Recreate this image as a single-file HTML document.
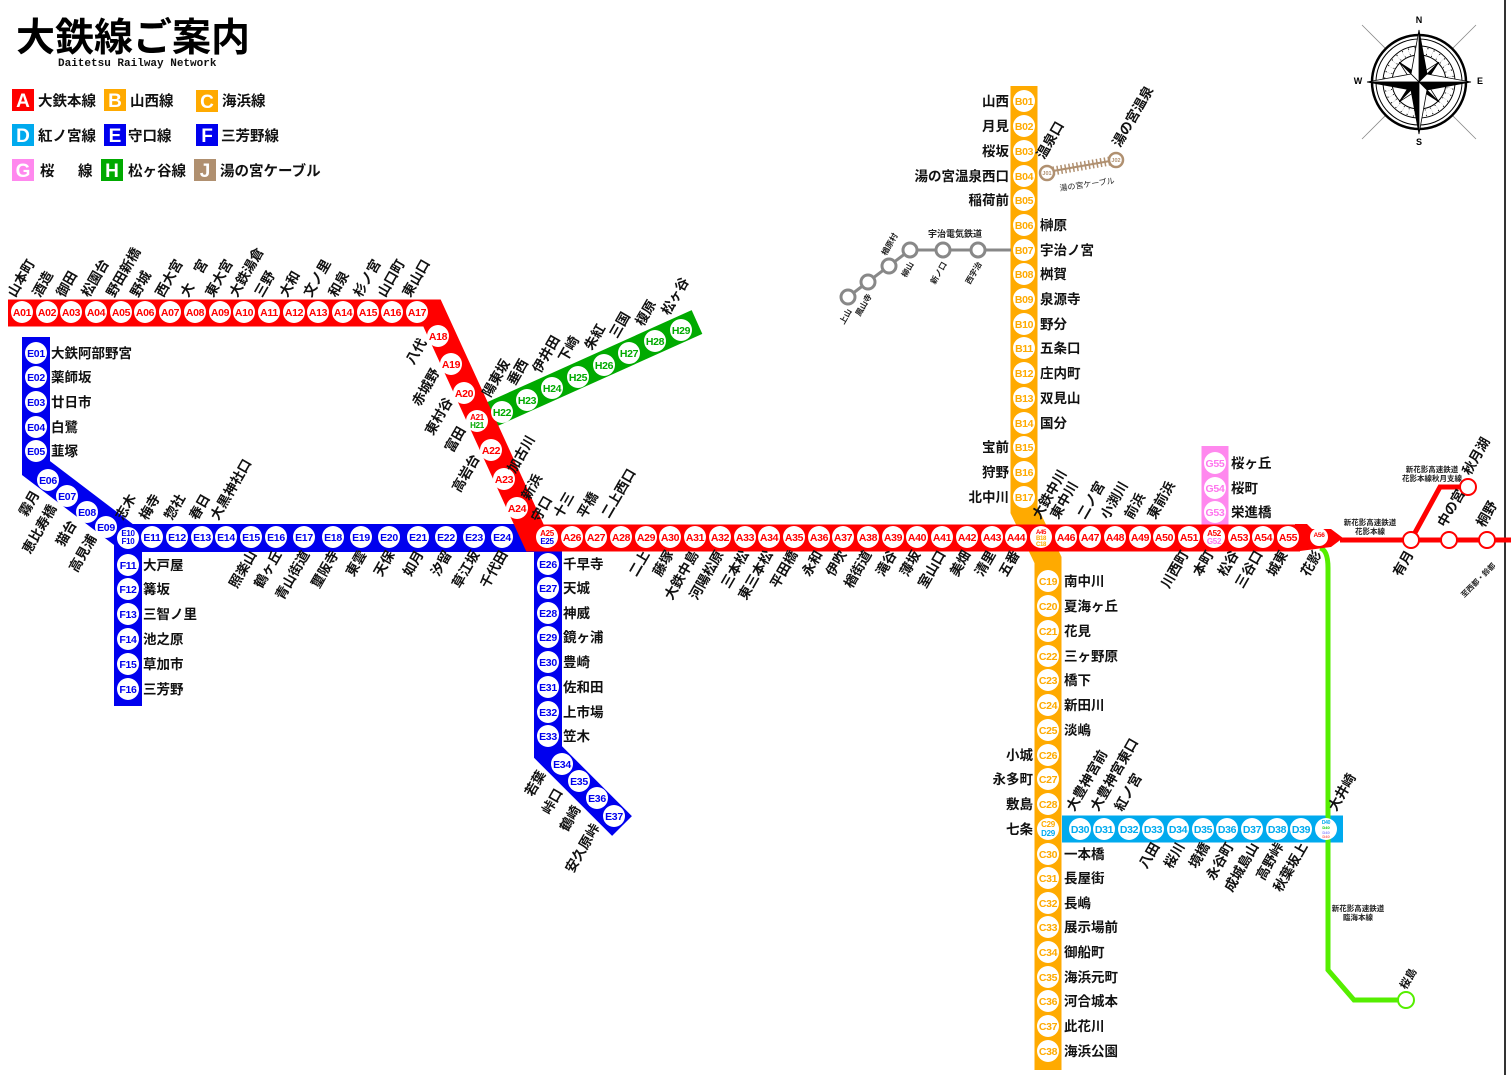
<!DOCTYPE html>
<html><head><meta charset="utf-8"><style>
html,body{margin:0;padding:0;background:#fff;width:1511px;height:1080px;overflow:hidden}
svg{display:block}
text{font-family:"Liberation Sans","Noto Sans CJK JP",sans-serif;font-weight:bold}
.l{font-size:13.5px;fill:#111}
.c{font-size:10.5px;text-anchor:middle;letter-spacing:-0.3px}
.s{font-size:8px;fill:#222;font-weight:normal}
.ca{fill:#f00}.cb{fill:#fa0}.ce{fill:#00e}.ch{fill:#0a0}.cd{fill:#0ae}.cg{fill:#f7e}
.e{text-anchor:end}
</style></head><body>
<svg width="1511" height="1080" viewBox="0 0 1511 1080" xmlns="http://www.w3.org/2000/svg">
<rect width="1511" height="1080" fill="#fff"/>
<line x1="1505" y1="0" x2="1505" y2="1075" stroke="#333" stroke-width="2"/>
<!-- Title -->
<text x="16" y="51" style="font-size:39px;fill:#000">大鉄線ご案内</text>
<text x="58" y="66" style="font-family:'Liberation Mono',monospace;font-size:11px;font-weight:bold;fill:#111">Daitetsu Railway Network</text>
<!-- Legend -->
<g style="font-size:19px;fill:#fff;text-anchor:middle">
<rect x="12" y="89" width="22" height="22" fill="#f00"/><text x="23" y="107">A</text>
<rect x="104" y="89" width="22" height="22" fill="#fa0"/><text x="115" y="107">B</text>
<rect x="196" y="90" width="22" height="22" fill="#fa0"/><text x="207" y="108">C</text>
<rect x="12" y="124" width="22" height="22" fill="#0ae"/><text x="23" y="142">D</text>
<rect x="104" y="124" width="22" height="22" fill="#00e"/><text x="115" y="142">E</text>
<rect x="196" y="124" width="22" height="22" fill="#00e"/><text x="207" y="142">F</text>
<rect x="12" y="159" width="22" height="22" fill="#f8e"/><text x="23" y="177">G</text>
<rect x="101" y="159" width="22" height="22" fill="#0a0"/><text x="112" y="177">H</text>
<rect x="194" y="159" width="22" height="22" fill="#b09070"/><text x="205" y="177">J</text>
</g>
<g style="font-size:14.5px;fill:#111">
<text x="38" y="106">大鉄本線</text><text x="130" y="106">山西線</text><text x="222" y="106">海浜線</text>
<text x="38" y="141">紅ノ宮線</text><text x="128" y="141">守口線</text><text x="221" y="141">三芳野線</text>
<text x="40" y="176">桜</text><text x="78" y="176">線</text><text x="128" y="176">松ヶ谷線</text><text x="220" y="176">湯の宮ケーブル</text>
</g>

<!-- Compass -->
<g transform="translate(1419,82)" stroke="#000" fill="none">
<g stroke-width="0.8" stroke="#888"><line x1="-57" y1="-57" x2="57" y2="57"/><line x1="57" y1="-57" x2="-57" y2="57"/></g>
<circle r="47" fill="#fff" stroke-width="2.5"/><circle r="43" stroke-width="1"/><circle r="36" stroke-width="1"/><circle r="27" stroke-width="1"/>
<circle r="31.5" stroke-width="7" stroke="#000" stroke-dasharray="1 5"/>
<circle r="31.5" stroke-width="5" stroke="#fff" stroke-dasharray="4 2"/>
<g stroke-width="0.8">
<polygon points="0,-28 5,-5 0,0" fill="#000" transform="rotate(45)"/><polygon points="0,-28 -5,-5 0,0" fill="#fff" transform="rotate(45)"/>
<polygon points="0,-28 5,-5 0,0" fill="#000" transform="rotate(135)"/><polygon points="0,-28 -5,-5 0,0" fill="#fff" transform="rotate(135)"/>
<polygon points="0,-28 5,-5 0,0" fill="#000" transform="rotate(225)"/><polygon points="0,-28 -5,-5 0,0" fill="#fff" transform="rotate(225)"/>
<polygon points="0,-28 5,-5 0,0" fill="#000" transform="rotate(315)"/><polygon points="0,-28 -5,-5 0,0" fill="#fff" transform="rotate(315)"/>
<polygon points="0,-52 8,-8 0,0" fill="#000"/><polygon points="0,-52 -8,-8 0,0" fill="#fff"/>
<polygon points="0,-52 8,-8 0,0" fill="#000" transform="rotate(90)"/><polygon points="0,-52 -8,-8 0,0" fill="#fff" transform="rotate(90)"/>
<polygon points="0,-52 8,-8 0,0" fill="#000" transform="rotate(180)"/><polygon points="0,-52 -8,-8 0,0" fill="#fff" transform="rotate(180)"/>
<polygon points="0,-52 8,-8 0,0" fill="#fff" transform="rotate(270)"/><polygon points="0,-52 -8,-8 0,0" fill="#000" transform="rotate(270)"/>
</g>
</g>
<g style="font-size:9px;font-family:'Liberation Sans',sans-serif;text-anchor:middle;fill:#000">
<text x="1419" y="23">N</text><text x="1419" y="145">S</text><text x="1358" y="84">W</text><text x="1480" y="84">E</text></g>

<!-- Lines -->
<polyline points="36,337 36,468 128,538 540,538" fill="none" stroke="#00e" stroke-width="28" stroke-linejoin="miter"/>
<line x1="128" y1="530" x2="128" y2="706" stroke="#00e" stroke-width="28"/>
<polyline points="548,530 548,752 622,826" fill="none" stroke="#00e" stroke-width="28" stroke-linejoin="miter"/>
<line x1="477" y1="421" x2="697" y2="322" stroke="#0a0" stroke-width="26"/>
<polyline points="1024,86 1024,510 1048,560 1048,1070" fill="none" stroke="#fa0" stroke-width="27" stroke-linejoin="miter"/>
<line x1="1215" y1="446" x2="1215" y2="530" stroke="#f8e" stroke-width="27"/>
<line x1="1062" y1="829" x2="1343" y2="829" stroke="#0ae" stroke-width="27"/>
<path d="M1320,548 Q1328,550 1328,568 L1328,970 L1354,1000 L1398,1000" fill="none" stroke="#5e0" stroke-width="5"/>
<circle cx="1406" cy="1000" r="8" fill="#fff" stroke="#5e0" stroke-width="2"/>
<polyline points="8,313 432,313 535,538 1300,538" fill="none" stroke="#f00" stroke-width="27" stroke-linejoin="miter"/>
<polygon points="1295,524 1307,524 1312,529 1331,529 1343,538 1331,547 1300,551 1295,551" fill="#f00"/>
<line x1="1340" y1="540" x2="1511" y2="540" stroke="#f00" stroke-width="5"/>
<polyline points="1411,540 1440,487 1462,487" fill="none" stroke="#f00" stroke-width="5"/>
<g fill="#fff" stroke="#f00" stroke-width="2"><circle cx="1411" cy="540" r="8"/><circle cx="1449" cy="540" r="8"/><circle cx="1487" cy="540" r="8"/><circle cx="1468" cy="487" r="8"/></g>
<!-- Uji -->
<polyline points="1011,250 910,250 848,297" fill="none" stroke="#888" stroke-width="3"/>
<g fill="#fff" stroke="#888" stroke-width="3"><circle cx="978" cy="250" r="7"/><circle cx="943" cy="250" r="7"/><circle cx="910" cy="250" r="7"/><circle cx="889" cy="266" r="7"/><circle cx="868" cy="282" r="7"/><circle cx="848" cy="297" r="7"/></g>
<g class="s"><text x="955" y="237" text-anchor="middle" style="font-size:9px">宇治電気鉄道</text>
<text class="e" transform="translate(982,264) rotate(-60)">西宇治</text>
<text class="e" transform="translate(947,264) rotate(-60)">新ノ口</text>
<text class="e" transform="translate(914,264) rotate(-60)">柳山</text>
<text transform="translate(886,256) rotate(-60)">楢原村</text>
<text class="e" transform="translate(872,296) rotate(-60)">鳳山寺</text>
<text class="e" transform="translate(852,311) rotate(-60)">上山</text></g>
<!-- J cable -->
<line x1="1053" y1="171" x2="1110" y2="161" stroke="#b09070" stroke-width="2"/>
<line x1="1053" y1="171" x2="1110" y2="161" stroke="#b09070" stroke-width="9" stroke-dasharray="1.5 2.5"/>
<g fill="#fff" stroke="#b09070" stroke-width="2.5"><circle cx="1047" cy="173" r="7"/><circle cx="1116" cy="160" r="7"/></g>
<g style="font-size:5.5px;fill:#b09070;text-anchor:middle"><text x="1047" y="175">J01</text><text x="1116" y="162">J02</text></g>
<text class="s" transform="translate(1060,191) rotate(-8)" style="font-size:8px">湯の宮ケーブル</text>
<text class="l" transform="translate(1044,160) rotate(-60)">温泉口</text>
<text class="l" transform="translate(1120,148) rotate(-60)">湯の宮温泉</text>

<!-- Station circles -->
<g fill="#fff">
<circle cx="22" cy="312" r="11"/><circle cx="47" cy="312" r="11"/><circle cx="71" cy="312" r="11"/><circle cx="96" cy="312" r="11"/><circle cx="121" cy="312" r="11"/><circle cx="145" cy="312" r="11"/><circle cx="170" cy="312" r="11"/><circle cx="195" cy="312" r="11"/><circle cx="220" cy="312" r="11"/><circle cx="244" cy="312" r="11"/><circle cx="269" cy="312" r="11"/><circle cx="294" cy="312" r="11"/><circle cx="318" cy="312" r="11"/><circle cx="343" cy="312" r="11"/><circle cx="368" cy="312" r="11"/><circle cx="392" cy="312" r="11"/><circle cx="417" cy="312" r="11"/>
<circle cx="438" cy="336" r="11"/><circle cx="451" cy="364" r="11"/><circle cx="464" cy="393" r="11"/><circle cx="477" cy="421" r="11"/><circle cx="491" cy="450" r="11"/><circle cx="504" cy="479" r="11"/><circle cx="517" cy="508" r="11"/>
<circle cx="547" cy="537" r="11"/><circle cx="572" cy="537" r="11"/><circle cx="596" cy="537" r="11"/><circle cx="621" cy="537" r="11"/><circle cx="646" cy="537" r="11"/><circle cx="670" cy="537" r="11"/><circle cx="695" cy="537" r="11"/><circle cx="720" cy="537" r="11"/><circle cx="745" cy="537" r="11"/><circle cx="769" cy="537" r="11"/><circle cx="794" cy="537" r="11"/><circle cx="819" cy="537" r="11"/><circle cx="843" cy="537" r="11"/><circle cx="868" cy="537" r="11"/><circle cx="893" cy="537" r="11"/><circle cx="917" cy="537" r="11"/><circle cx="942" cy="537" r="11"/><circle cx="967" cy="537" r="11"/><circle cx="992" cy="537" r="11"/><circle cx="1016" cy="537" r="11"/><circle cx="1041" cy="537" r="11"/><circle cx="1066" cy="537" r="11"/><circle cx="1090" cy="537" r="11"/><circle cx="1115" cy="537" r="11"/><circle cx="1140" cy="537" r="11"/><circle cx="1164" cy="537" r="11"/><circle cx="1189" cy="537" r="11"/><circle cx="1214" cy="537" r="11"/><circle cx="1239" cy="537" r="11"/><circle cx="1263" cy="537" r="11"/><circle cx="1288" cy="537" r="11"/><circle cx="1319" cy="537" r="9"/>
<circle cx="36" cy="353" r="11"/><circle cx="36" cy="377" r="11"/><circle cx="36" cy="402" r="11"/><circle cx="36" cy="427" r="11"/><circle cx="36" cy="451" r="11"/>
<circle cx="48" cy="480" r="11"/><circle cx="67" cy="496" r="11"/><circle cx="87" cy="512" r="11"/><circle cx="106" cy="527" r="11"/><circle cx="128" cy="538" r="11"/>
<circle cx="152" cy="537" r="11"/><circle cx="177" cy="537" r="11"/><circle cx="202" cy="537" r="11"/><circle cx="226" cy="537" r="11"/><circle cx="251" cy="537" r="11"/><circle cx="276" cy="537" r="11"/><circle cx="304" cy="537" r="11"/><circle cx="333" cy="537" r="11"/><circle cx="361" cy="537" r="11"/><circle cx="389" cy="537" r="11"/><circle cx="418" cy="537" r="11"/><circle cx="446" cy="537" r="11"/><circle cx="474" cy="537" r="11"/><circle cx="502" cy="537" r="11"/>
<circle cx="128" cy="565" r="11"/><circle cx="128" cy="589" r="11"/><circle cx="128" cy="614" r="11"/><circle cx="128" cy="639" r="11"/><circle cx="128" cy="664" r="11"/><circle cx="128" cy="689" r="11"/>
<circle cx="548" cy="564" r="11"/><circle cx="548" cy="588" r="11"/><circle cx="548" cy="613" r="11"/><circle cx="548" cy="637" r="11"/><circle cx="548" cy="662" r="11"/><circle cx="548" cy="687" r="11"/><circle cx="548" cy="712" r="11"/><circle cx="548" cy="736" r="11"/>
<circle cx="562" cy="764" r="11"/><circle cx="579" cy="781" r="11"/><circle cx="597" cy="798" r="11"/><circle cx="614" cy="816" r="11"/>
<circle cx="502" cy="412" r="11"/><circle cx="527" cy="400" r="11"/><circle cx="552" cy="388" r="11"/><circle cx="578" cy="377" r="11"/><circle cx="604" cy="365" r="11"/><circle cx="629" cy="353" r="11"/><circle cx="655" cy="341" r="11"/><circle cx="681" cy="330" r="11"/>
<circle cx="1024" cy="101" r="11"/><circle cx="1024" cy="126" r="11"/><circle cx="1024" cy="151" r="11"/><circle cx="1024" cy="176" r="11"/><circle cx="1024" cy="200" r="11"/><circle cx="1024" cy="225" r="11"/><circle cx="1024" cy="250" r="11"/><circle cx="1024" cy="274" r="11"/><circle cx="1024" cy="299" r="11"/><circle cx="1024" cy="324" r="11"/><circle cx="1024" cy="348" r="11"/><circle cx="1024" cy="373" r="11"/><circle cx="1024" cy="398" r="11"/><circle cx="1024" cy="423" r="11"/><circle cx="1024" cy="447" r="11"/><circle cx="1024" cy="472" r="11"/><circle cx="1024" cy="497" r="11"/>
<circle cx="1048" cy="581" r="11"/><circle cx="1048" cy="606" r="11"/><circle cx="1048" cy="631" r="11"/><circle cx="1048" cy="656" r="11"/><circle cx="1048" cy="680" r="11"/><circle cx="1048" cy="705" r="11"/><circle cx="1048" cy="730" r="11"/><circle cx="1048" cy="755" r="11"/><circle cx="1048" cy="779" r="11"/><circle cx="1048" cy="804" r="11"/><circle cx="1048" cy="829" r="11"/><circle cx="1048" cy="854" r="11"/><circle cx="1048" cy="878" r="11"/><circle cx="1048" cy="903" r="11"/><circle cx="1048" cy="927" r="11"/><circle cx="1048" cy="952" r="11"/><circle cx="1048" cy="977" r="11"/><circle cx="1048" cy="1001" r="11"/><circle cx="1048" cy="1026" r="11"/><circle cx="1048" cy="1051" r="11"/>
<circle cx="1080" cy="829" r="11"/><circle cx="1104" cy="829" r="11"/><circle cx="1129" cy="829" r="11"/><circle cx="1153" cy="829" r="11"/><circle cx="1178" cy="829" r="11"/><circle cx="1203" cy="829" r="11"/><circle cx="1227" cy="829" r="11"/><circle cx="1252" cy="829" r="11"/><circle cx="1277" cy="829" r="11"/><circle cx="1301" cy="829" r="11"/><circle cx="1326" cy="829" r="11"/>
<circle cx="1215" cy="463" r="11"/><circle cx="1215" cy="488" r="11"/><circle cx="1215" cy="512" r="11"/>
</g>

<!-- Codes -->
<g class="c ca">
<text x="22" y="316">A01</text><text x="47" y="316">A02</text><text x="71" y="316">A03</text><text x="96" y="316">A04</text><text x="121" y="316">A05</text><text x="145" y="316">A06</text><text x="170" y="316">A07</text><text x="195" y="316">A08</text><text x="220" y="316">A09</text><text x="244" y="316">A10</text><text x="269" y="316">A11</text><text x="294" y="316">A12</text><text x="318" y="316">A13</text><text x="343" y="316">A14</text><text x="368" y="316">A15</text><text x="392" y="316">A16</text><text x="417" y="316">A17</text>
<text x="438" y="340">A18</text><text x="451" y="368">A19</text><text x="464" y="397">A20</text><text x="491" y="454">A22</text><text x="504" y="483">A23</text><text x="517" y="512">A24</text>
<text x="572" y="541">A26</text><text x="596" y="541">A27</text><text x="621" y="541">A28</text><text x="646" y="541">A29</text><text x="670" y="541">A30</text><text x="695" y="541">A31</text><text x="720" y="541">A32</text><text x="745" y="541">A33</text><text x="769" y="541">A34</text><text x="794" y="541">A35</text><text x="819" y="541">A36</text><text x="843" y="541">A37</text><text x="868" y="541">A38</text><text x="893" y="541">A39</text><text x="917" y="541">A40</text><text x="942" y="541">A41</text><text x="967" y="541">A42</text><text x="992" y="541">A43</text><text x="1016" y="541">A44</text>
<text x="1066" y="541">A46</text><text x="1090" y="541">A47</text><text x="1115" y="541">A48</text><text x="1140" y="541">A49</text><text x="1164" y="541">A50</text><text x="1189" y="541">A51</text><text x="1239" y="541">A53</text><text x="1263" y="541">A54</text><text x="1288" y="541">A55</text>
<text x="477" y="420" style="font-size:8px">A21</text><text x="547" y="536" style="font-size:8px">A25</text><text x="1214" y="536" style="font-size:8px">A52</text><text x="1319" y="537" style="font-size:6.5px">A56</text><text x="1041" y="534" style="font-size:6px">A45</text>
</g>
<g class="c ch"><text x="477" y="428" style="font-size:8px">H21</text>
<text x="502" y="416">H22</text><text x="527" y="404">H23</text><text x="552" y="392">H24</text><text x="578" y="381">H25</text><text x="604" y="369">H26</text><text x="629" y="357">H27</text><text x="655" y="345">H28</text><text x="681" y="334">H29</text></g>
<g class="c ce">
<text x="547" y="544" style="font-size:8px">E25</text><text x="128" y="536" style="font-size:8px">E10</text><text x="128" y="544" style="font-size:8px">F10</text>
<text x="36" y="357">E01</text><text x="36" y="381">E02</text><text x="36" y="406">E03</text><text x="36" y="431">E04</text><text x="36" y="455">E05</text>
<text x="48" y="484">E06</text><text x="67" y="500">E07</text><text x="87" y="516">E08</text><text x="106" y="531">E09</text>
<text x="152" y="541">E11</text><text x="177" y="541">E12</text><text x="202" y="541">E13</text><text x="226" y="541">E14</text><text x="251" y="541">E15</text><text x="276" y="541">E16</text><text x="304" y="541">E17</text><text x="333" y="541">E18</text><text x="361" y="541">E19</text><text x="389" y="541">E20</text><text x="418" y="541">E21</text><text x="446" y="541">E22</text><text x="474" y="541">E23</text><text x="502" y="541">E24</text>
<text x="128" y="569">F11</text><text x="128" y="593">F12</text><text x="128" y="618">F13</text><text x="128" y="643">F14</text><text x="128" y="668">F15</text><text x="128" y="693">F16</text>
<text x="548" y="568">E26</text><text x="548" y="592">E27</text><text x="548" y="617">E28</text><text x="548" y="641">E29</text><text x="548" y="666">E30</text><text x="548" y="691">E31</text><text x="548" y="716">E32</text><text x="548" y="740">E33</text>
<text x="562" y="768">E34</text><text x="579" y="785">E35</text><text x="597" y="802">E36</text><text x="614" y="820">E37</text>
</g>
<g class="c cb">
<text x="1041" y="540" style="font-size:6px">B18</text><text x="1041" y="546" style="font-size:6px">C18</text>
<text x="1024" y="105">B01</text><text x="1024" y="130">B02</text><text x="1024" y="155">B03</text><text x="1024" y="180">B04</text><text x="1024" y="204">B05</text><text x="1024" y="229">B06</text><text x="1024" y="254">B07</text><text x="1024" y="278">B08</text><text x="1024" y="303">B09</text><text x="1024" y="328">B10</text><text x="1024" y="352">B11</text><text x="1024" y="377">B12</text><text x="1024" y="402">B13</text><text x="1024" y="427">B14</text><text x="1024" y="451">B15</text><text x="1024" y="476">B16</text><text x="1024" y="501">B17</text>
<text x="1048" y="585">C19</text><text x="1048" y="610">C20</text><text x="1048" y="635">C21</text><text x="1048" y="660">C22</text><text x="1048" y="684">C23</text><text x="1048" y="709">C24</text><text x="1048" y="734">C25</text><text x="1048" y="759">C26</text><text x="1048" y="783">C27</text><text x="1048" y="808">C28</text><text x="1048" y="827" style="font-size:8px">C29</text><text x="1048" y="858">C30</text><text x="1048" y="882">C31</text><text x="1048" y="907">C32</text><text x="1048" y="931">C33</text><text x="1048" y="956">C34</text><text x="1048" y="981">C35</text><text x="1048" y="1005">C36</text><text x="1048" y="1030">C37</text><text x="1048" y="1055">C38</text>
</g>
<g class="c cd"><text x="1048" y="836" style="font-size:8px">D29</text>
<text x="1080" y="833">D30</text><text x="1104" y="833">D31</text><text x="1129" y="833">D32</text><text x="1153" y="833">D33</text><text x="1178" y="833">D34</text><text x="1203" y="833">D35</text><text x="1227" y="833">D36</text><text x="1252" y="833">D37</text><text x="1277" y="833">D38</text><text x="1301" y="833">D39</text><text x="1326" y="824" style="font-size:5px">D40</text></g>
<g class="c cg"><text x="1214" y="544" style="font-size:8px">G52</text><text x="1215" y="467">G55</text><text x="1215" y="492">G54</text><text x="1215" y="516">G53</text></g>
<g style="font-size:4px;text-anchor:middle"><text x="1326" y="829" fill="#0c0">D40</text><text x="1326" y="834" fill="#88f">D40</text><text x="1326" y="838" fill="#f66">D40</text></g>

<!-- Labels -->
<g class="l">
<text transform="translate(15,298) rotate(-60)">山本町</text><text transform="translate(40,298) rotate(-60)">酒造</text><text transform="translate(64,298) rotate(-60)">御田</text><text transform="translate(89,298) rotate(-60)">松園台</text><text transform="translate(114,298) rotate(-60)">野田新橋</text><text transform="translate(138,298) rotate(-60)">野城</text><text transform="translate(163,298) rotate(-60)">西大宮</text><text transform="translate(188,298) rotate(-60)">大　宮</text><text transform="translate(213,298) rotate(-60)">東大宮</text><text transform="translate(237,298) rotate(-60)">大鉄湯倉</text><text transform="translate(262,298) rotate(-60)">三野</text><text transform="translate(287,298) rotate(-60)">大和</text><text transform="translate(311,298) rotate(-60)">文ノ里</text><text transform="translate(336,298) rotate(-60)">和泉</text><text transform="translate(361,298) rotate(-60)">杉ノ宮</text><text transform="translate(385,298) rotate(-60)">山口町</text><text transform="translate(410,298) rotate(-60)">東山口</text>
<text class="e" transform="translate(427,342) rotate(-60)">八代</text><text class="e" transform="translate(440,372) rotate(-60)">赤城野</text><text class="e" transform="translate(453,401) rotate(-60)">東村谷</text><text class="e" transform="translate(466,430) rotate(-60)">富田</text><text class="e" transform="translate(480,458) rotate(-60)">高岩台</text>
<text transform="translate(515,474) rotate(-60)">加古川</text><text transform="translate(529,501) rotate(-60)">新浜</text><text transform="translate(539,523) rotate(-60)">守口</text>
<text transform="translate(561,519) rotate(-60)">十三</text><text transform="translate(585,519) rotate(-60)">平橋</text><text transform="translate(609,519) rotate(-60)">二上西口</text>
<text class="e" transform="translate(650,554) rotate(-60)">二上</text><text class="e" transform="translate(674,554) rotate(-60)">藤塚</text><text class="e" transform="translate(699,554) rotate(-60)">大鉄中島</text><text class="e" transform="translate(724,554) rotate(-60)">河陽松原</text><text class="e" transform="translate(749,554) rotate(-60)">三本松</text><text class="e" transform="translate(773,554) rotate(-60)">東三本松</text><text class="e" transform="translate(798,554) rotate(-60)">平田橋</text><text class="e" transform="translate(823,554) rotate(-60)">永和</text><text class="e" transform="translate(847,554) rotate(-60)">伊吹</text><text class="e" transform="translate(872,554) rotate(-60)">楢街道</text><text class="e" transform="translate(897,554) rotate(-60)">滝谷</text><text class="e" transform="translate(921,554) rotate(-60)">薄坂</text><text class="e" transform="translate(946,554) rotate(-60)">室山口</text><text class="e" transform="translate(971,554) rotate(-60)">美畑</text><text class="e" transform="translate(996,554) rotate(-60)">清里</text><text class="e" transform="translate(1020,554) rotate(-60)">五番</text>
<text class="e" transform="translate(1189,554) rotate(-60)">川西町</text><text class="e" transform="translate(1214,554) rotate(-60)">本町</text><text class="e" transform="translate(1239,554) rotate(-60)">松谷</text><text class="e" transform="translate(1263,554) rotate(-60)">三谷口</text><text class="e" transform="translate(1288,554) rotate(-60)">城東</text><text class="e" transform="translate(1322,554) rotate(-60)">花影</text>
<text transform="translate(1040,520) rotate(-60)">大鉄中川</text><text transform="translate(1058,520) rotate(-60)">東中川</text><text transform="translate(1085,520) rotate(-60)">二ノ宮</text><text transform="translate(1108,520) rotate(-60)">小渕川</text><text transform="translate(1132,520) rotate(-60)">前浜</text><text transform="translate(1155,520) rotate(-60)">東前浜</text>
<text transform="translate(490,398) rotate(-60)">陽東坂</text><text transform="translate(515,386) rotate(-60)">垂西</text><text transform="translate(540,374) rotate(-60)">伊井田</text><text transform="translate(566,363) rotate(-60)">下崎</text><text transform="translate(592,351) rotate(-60)">朱紅</text><text transform="translate(617,339) rotate(-60)">三国</text><text transform="translate(643,327) rotate(-60)">榎原</text><text transform="translate(669,316) rotate(-60)">松ヶ谷</text>
<text x="51" y="358">大鉄阿部野宮</text><text x="51" y="382">薬師坂</text><text x="51" y="407">廿日市</text><text x="51" y="432">白鷺</text><text x="51" y="456">韮塚</text>
<text class="e" transform="translate(40,494) rotate(-60)">霧月</text><text class="e" transform="translate(57,508) rotate(-60)">恵比寿橋</text><text class="e" transform="translate(77,524) rotate(-60)">猫台</text><text class="e" transform="translate(97,538) rotate(-60)">高見浦</text>
<text transform="translate(123,521) rotate(-60)">志木</text><text transform="translate(147,521) rotate(-60)">梅寺</text><text transform="translate(172,521) rotate(-60)">惣社</text><text transform="translate(197,521) rotate(-60)">春日</text><text transform="translate(218,521) rotate(-60)">大黒神社口</text>
<text class="e" transform="translate(257,554) rotate(-60)">照楽山</text><text class="e" transform="translate(282,554) rotate(-60)">鶴ヶ丘</text><text class="e" transform="translate(310,554) rotate(-60)">青山街道</text><text class="e" transform="translate(339,554) rotate(-60)">璽阪寺</text><text class="e" transform="translate(367,554) rotate(-60)">東雲</text><text class="e" transform="translate(395,554) rotate(-60)">天保</text><text class="e" transform="translate(424,554) rotate(-60)">如月</text><text class="e" transform="translate(452,554) rotate(-60)">汐留</text><text class="e" transform="translate(480,554) rotate(-60)">草江坂</text><text class="e" transform="translate(508,554) rotate(-60)">千代田</text>
<text x="143" y="570">大戸屋</text><text x="143" y="594">篝坂</text><text x="143" y="619">三智ノ里</text><text x="143" y="644">池之原</text><text x="143" y="669">草加市</text><text x="143" y="694">三芳野</text>
<text x="563" y="569">千早寺</text><text x="563" y="593">天城</text><text x="563" y="618">神威</text><text x="563" y="642">鏡ヶ浦</text><text x="563" y="667">豊崎</text><text x="563" y="692">佐和田</text><text x="563" y="717">上市場</text><text x="563" y="741">笠木</text>
<text class="e" transform="translate(546,774) rotate(-60)">若葉</text><text class="e" transform="translate(563,792) rotate(-60)">峠口</text><text class="e" transform="translate(581,809) rotate(-60)">鶴崎</text><text class="e" transform="translate(600,827) rotate(-60)">安久原峠</text>
<text class="e" x="1009" y="106">山西</text><text class="e" x="1009" y="131">月見</text><text class="e" x="1009" y="156">桜坂</text><text class="e" x="1009" y="181">湯の宮温泉西口</text><text class="e" x="1009" y="205">稲荷前</text>
<text x="1040" y="230">榊原</text><text x="1040" y="255">宇治ノ宮</text><text x="1040" y="279">桝賀</text><text x="1040" y="304">泉源寺</text><text x="1040" y="329">野分</text><text x="1040" y="353">五条口</text><text x="1040" y="378">庄内町</text><text x="1040" y="403">双見山</text><text x="1040" y="428">国分</text>
<text class="e" x="1009" y="452">宝前</text><text class="e" x="1009" y="477">狩野</text><text class="e" x="1009" y="502">北中川</text>
<text x="1064" y="586">南中川</text><text x="1064" y="611">夏海ヶ丘</text><text x="1064" y="636">花見</text><text x="1064" y="661">三ヶ野原</text><text x="1064" y="685">橋下</text><text x="1064" y="710">新田川</text><text x="1064" y="735">淡嶋</text>
<text class="e" x="1033" y="760">小城</text><text class="e" x="1033" y="784">永多町</text><text class="e" x="1033" y="809">敷島</text><text class="e" x="1033" y="834">七条</text>
<text x="1064" y="859">一本橋</text><text x="1064" y="883">長屋街</text><text x="1064" y="908">長嶋</text><text x="1064" y="932">展示場前</text><text x="1064" y="957">御船町</text><text x="1064" y="982">海浜元町</text><text x="1064" y="1006">河合城本</text><text x="1064" y="1031">此花川</text><text x="1064" y="1056">海浜公園</text>
<text transform="translate(1074,812) rotate(-60)">大豊神宮前</text><text transform="translate(1098,812) rotate(-60)">大豊神宮東口</text><text transform="translate(1122,812) rotate(-60)">紅ノ宮</text><text transform="translate(1336,812) rotate(-60)">大井崎</text>
<text class="e" transform="translate(1160,846) rotate(-60)">八田</text><text class="e" transform="translate(1185,846) rotate(-60)">桜川</text><text class="e" transform="translate(1210,846) rotate(-60)">境橋</text><text class="e" transform="translate(1234,846) rotate(-60)">永谷町</text><text class="e" transform="translate(1259,846) rotate(-60)">成城島山</text><text class="e" transform="translate(1284,846) rotate(-60)">高野峠</text><text class="e" transform="translate(1308,846) rotate(-60)">秋葉坂上</text>
<text x="1231" y="468">桜ヶ丘</text><text x="1231" y="493">桜町</text><text x="1231" y="517">栄進橋</text>
<text class="e" transform="translate(1414,554) rotate(-60)">有月</text><text transform="translate(1445,528) rotate(-60)">中の宮</text><text transform="translate(1484,528) rotate(-60)">桐野</text><text transform="translate(1470,476) rotate(-60)">秋月湖</text>
<text transform="translate(1406,990) rotate(-60)" style="font-size:11px">桜島</text>
</g>
<g class="s" style="font-size:7.5px;text-anchor:middle">
<text x="1370" y="525">新花影高速鉄道</text><text x="1370" y="534">花影本線</text>
<text x="1432" y="472">新花影高速鉄道</text><text x="1432" y="481">花影本線秋月支線</text>
<text x="1358" y="911">新花影高速鉄道</text><text x="1358" y="920">臨海本線</text>
<text transform="translate(1480,582) rotate(-45)">至西都・鈴都</text>
</g>
</svg>
</body></html>
